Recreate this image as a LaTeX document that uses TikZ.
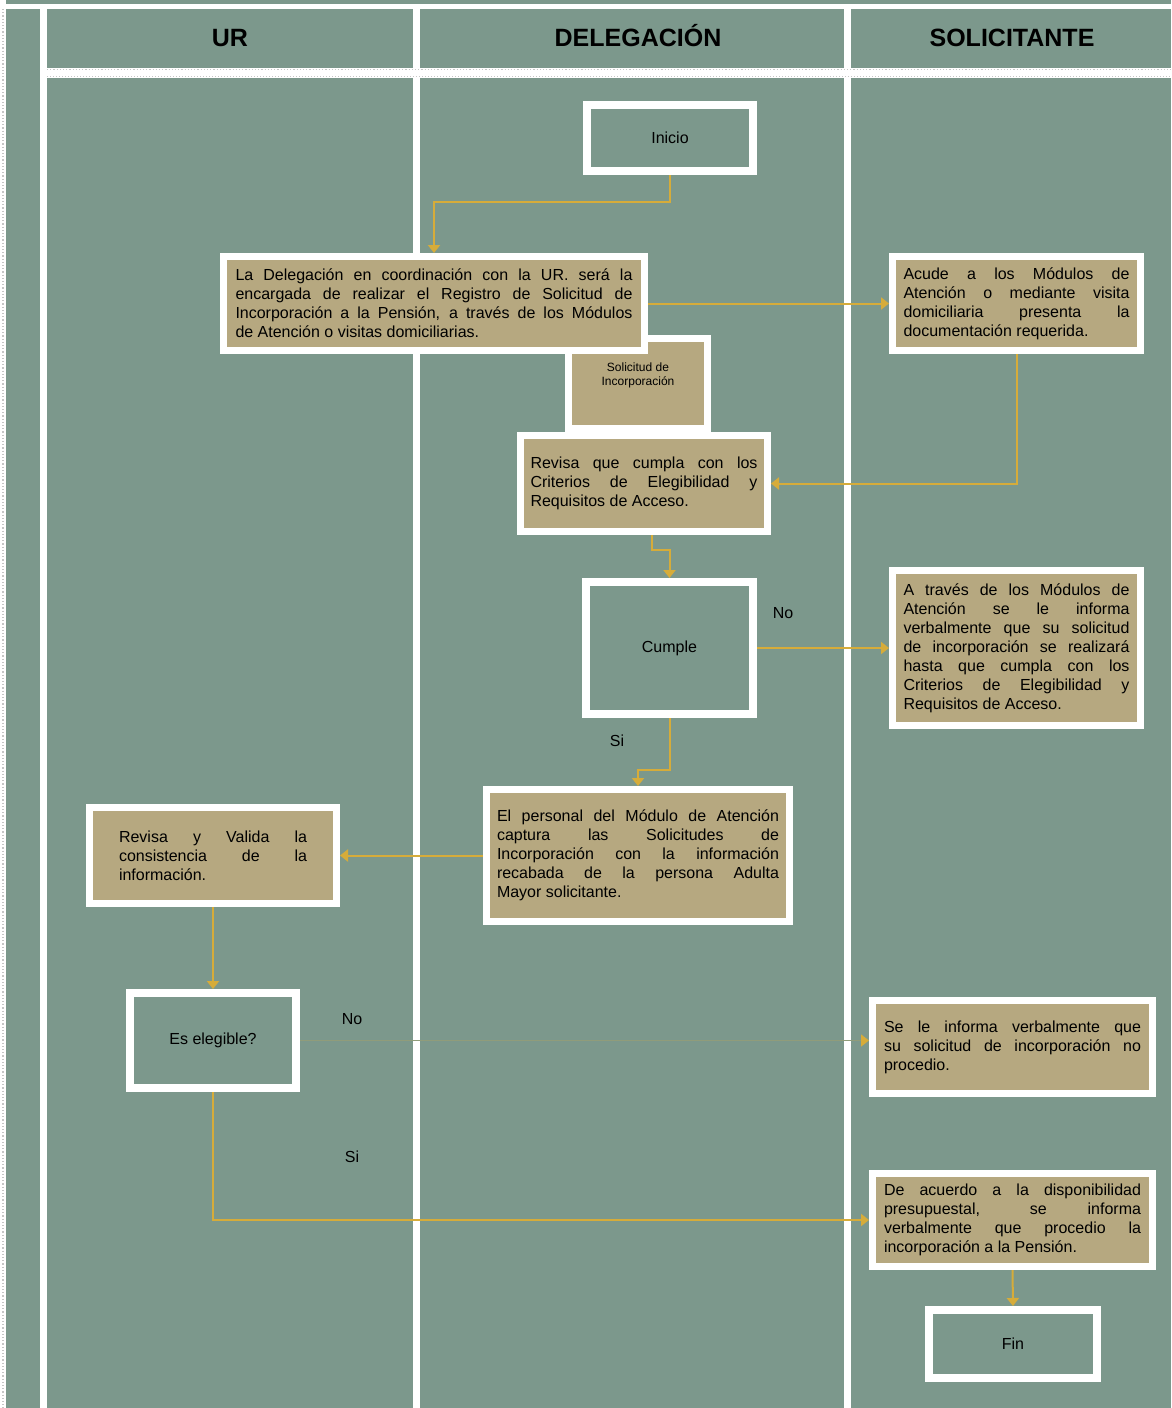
\documentclass[tikz,border=0pt]{standalone}
\usepackage{fontspec}
\setmainfont{Liberation Sans}
\usetikzlibrary{positioning,arrows.meta}
\definecolor{lanegreen}{RGB}{124,152,140}
\definecolor{boxtan}{RGB}{182,168,128}
\definecolor{flowgold}{RGB}{214,172,58}
\tikzset{
  lanehead/.style={font=\bfseries\fontsize{25}{28}\selectfont,anchor=base},
  stepbox/.style={draw=white,line width=7pt,fill=boxtan,align=justify,inner xsep=0pt,font=\fontsize{16}{19}\selectfont},
  termbox/.style={draw=white,line width=8pt,fill=lanegreen,font=\fontsize{16}{19}\selectfont},
  answer/.style={font=\fontsize{16}{19}\selectfont},
  flow/.style={draw=flowgold,line width=2pt,-{Triangle[width=12pt,length=8pt]}},
  faintflow/.style={draw=flowgold!22!lanegreen,line width=1.5pt,-{Triangle[width=12pt,length=8pt,color=flowgold]}}
}

\begin{document}
\begin{tikzpicture}[x=1pt,y=-1pt]
  \useasboundingbox (0,0) rectangle (1171,1408);
  % lanes
  \fill[lanegreen] (0,0) rectangle (1171,1408);
  \fill[white] (0,0) rectangle (6,1408);
  \fill[white] (6,4) rectangle (1171,9);
  \fill[white] (40,9) rectangle (47,1408);
  \fill[white] (413,9) rectangle (420,1408);
  \fill[white] (844,9) rectangle (851,1408);
  \fill[white] (47,68) rectangle (1171,78);
  \draw[gray!45!white,dotted,line width=1.2pt] (3,9) -- (3,1408);
  \draw[gray!45!white,dotted,line width=1.2pt] (47,69.5) -- (1171,69.5);
  \draw[gray!45!white,dotted,line width=1pt] (47,76) -- (1171,76);
  \node[lanehead] (hur) at (230,46) {UR};
  \node[lanehead] (hdel) at (638,46) {DELEGACIÓN};
  \node[lanehead] (hsol) at (1012,46) {SOLICITANTE};

  % steps
  \node[termbox,minimum width=166pt,minimum height=66pt] (inicio) at (670,138) {Inicio};
  \node[stepbox,minimum width=139pt,minimum height=90pt,
        label={[anchor=north,align=center,font=\fontsize{12}{14}\selectfont,yshift=-24pt]north:Solicitud de\\Incorporación}] (solic) at (638,383.5) {};
  \node[stepbox,minimum width=421pt,minimum height=94pt,text width=397pt] (deleg) at (434,303.5)
    {La Delegación en coordinación con la UR. será la\linebreak encargada de realizar el Registro de Solicitud de\linebreak Incorporación a la Pensión, a través de los Módulos\linebreak de Atención o visitas domiciliarias.};
  \node[stepbox,minimum width=248pt,minimum height=94pt,text width=226pt] (acude) at (1016.5,303.5)
    {Acude a los Módulos de\linebreak Atención o mediante visita\linebreak domiciliaria presenta la\linebreak documentación requerida.};
  \node[stepbox,minimum width=247pt,minimum height=96pt,text width=227pt] (revisa) at (644,483.5)
    {Revisa que cumpla con los\linebreak Criterios de Elegibilidad y\linebreak Requisitos de Acceso.};
  \node[termbox,minimum width=167pt,minimum height=132pt] (cumple) at (669.5,648) {Cumple};
  \node[stepbox,minimum width=248pt,minimum height=155pt,text width=226pt] (atraves) at (1016.5,648)
    {A través de los Módulos de\linebreak Atención se le informa\linebreak verbalmente que su solicitud\linebreak de incorporación se realizará\linebreak hasta que cumpla con los\linebreak Criterios de Elegibilidad y\linebreak Requisitos de Acceso.};
  \node[stepbox,minimum width=303pt,minimum height=132pt,text width=282pt] (personal) at (638,855.5)
    {El personal del Módulo de Atención\linebreak captura las Solicitudes de\linebreak Incorporación con la información\linebreak recabada de la persona Adulta\linebreak Mayor solicitante.};
  \node[stepbox,minimum width=247pt,minimum height=96pt,text width=188pt] (valida) at (213,855.5)
    {Revisa y Valida la\linebreak consistencia de la\linebreak información.};
  \node[termbox,minimum width=166pt,minimum height=95pt] (elegible) at (213,1040.5) {Es elegible?};
  \node[stepbox,minimum width=280pt,minimum height=93pt,text width=257pt] (noprocede) at (1012.5,1047)
    {Se le informa verbalmente que\linebreak su solicitud de incorporación no\linebreak procedio.};
  \node[stepbox,minimum width=280pt,minimum height=93pt,text width=257pt] (acuerdo) at (1012.5,1220)
    {De acuerdo a la disponibilidad\linebreak presupuestal, se informa\linebreak verbalmente que procedio la\linebreak incorporación a la Pensión.};
  \node[termbox,minimum width=168pt,minimum height=68pt] (fin) at (1013,1344) {Fin};

  \node[answer] (nocumple) at (783,613) {No};
  \node[answer] (sicumple) at (617,741) {Si};
  \node[answer] (noeleg) at (352,1019) {No};
  \node[answer] (sieleg) at (352,1157) {Si};

  % connectors
  \draw[flow] (inicio.south) -- ++(0,27) -| (deleg.north);
  \draw[flow] (deleg.east) -- (acude.west);
  \draw[flow] (acude.south) |- (revisa.east);
  \draw[flow] ([xshift=8pt]revisa.south) -- ++(0,15) -| (cumple.north);
  \draw[flow] (cumple.east) -- (atraves.west);
  \draw[flow] (cumple.south) -- ++(0,52) -| (personal.north);
  \draw[flow] (personal.west) -- (valida.east);
  \draw[flow] (valida.south) -- (elegible.north);
  \draw[faintflow] (elegible.east) -- (elegible.east -| noprocede.west);
  \draw[flow] (elegible.south) |- (acuerdo.west);
  \draw[flow] (acuerdo.south) -- (fin.north);
\end{tikzpicture}
\end{document}
